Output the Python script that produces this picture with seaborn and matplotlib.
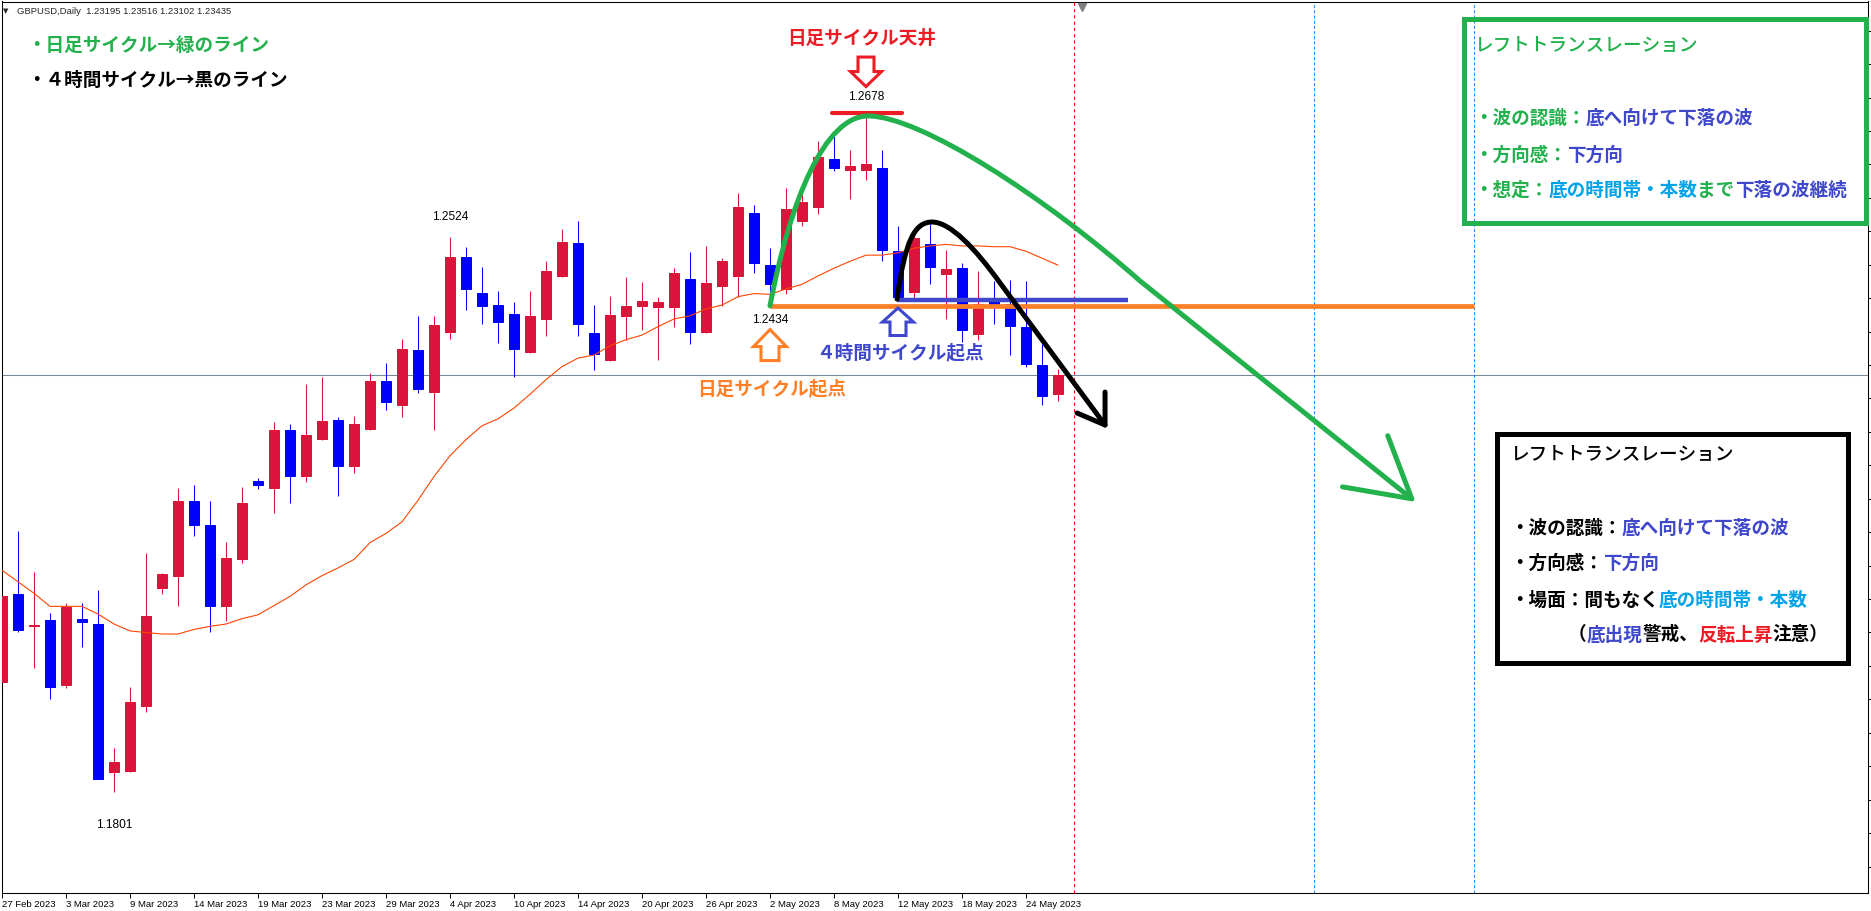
import numpy as np
import matplotlib
matplotlib.use("Agg")
import matplotlib.pyplot as plt
import matplotlib.transforms as mtransforms
from matplotlib.path import Path
from matplotlib.patches import PathPatch, Polygon, Rectangle
import seaborn as sns

# ---------------- data: GBPUSD daily ----------------
bar_index = np.arange(67)

opens = [1.1944, 1.2059, 1.2017, 1.2025, 1.1941, 1.2027, 1.2020, 1.1827, 1.1829, 1.1914,
         1.2067, 1.2083, 1.2180, 1.2149, 1.2044, 1.2105, 1.2206, 1.2197, 1.2272, 1.2213,
         1.2261, 1.2286, 1.2226, 1.2274, 1.2336, 1.2305, 1.2377, 1.2322, 1.2400, 1.2497,
         1.2451, 1.2435, 1.2423, 1.2374, 1.2417, 1.2473, 1.2516, 1.2399, 1.2363, 1.2421,
         1.2434, 1.2432, 1.2432, 1.2469, 1.2400, 1.2460, 1.2473, 1.2555, 1.2487, 1.2456,
         1.2544, 1.2563, 1.2625, 1.2611, 1.2611, 1.2613, 1.2505, 1.2452, 1.2515, 1.2475,
         1.2483, 1.2398, 1.2444, 1.2437, 1.2406, 1.2357, 1.23195]
highs = [1.2064, 1.2141, 1.2088, 1.2034, 1.2047, 1.2047, 1.2064, 1.1859, 1.1938, 1.2112,
         1.2086, 1.2197, 1.2201, 1.2180, 1.2127, 1.2198, 1.2210, 1.2283, 1.2280, 1.2332,
         1.2341, 1.2289, 1.2291, 1.2347, 1.2360, 1.2391, 1.2421, 1.2421, 1.2524, 1.2511,
         1.2484, 1.2454, 1.2439, 1.2454, 1.2492, 1.2534, 1.2544, 1.2435, 1.2447, 1.2472,
         1.2465, 1.2446, 1.2483, 1.2504, 1.2512, 1.2496, 1.2581, 1.2565, 1.2509, 1.2587,
         1.2588, 1.2649, 1.2659, 1.2637, 1.2678, 1.2637, 1.2538, 1.2531, 1.2541, 1.2507,
         1.2490, 1.2480, 1.2466, 1.2468, 1.2466, 1.2385, 1.23516]
lows = [1.1921, 1.2010, 1.1963, 1.1923, 1.1937, 1.1990, 1.1818, 1.1801, 1.1828, 1.1906,
        1.2059, 1.2044, 1.2134, 1.2009, 1.2024, 1.2100, 1.2196, 1.2164, 1.2177, 1.2205,
        1.2259, 1.2187, 1.2216, 1.2273, 1.2299, 1.2290, 1.2321, 1.2272, 1.2391, 1.2429,
        1.2410, 1.2386, 1.2341, 1.2373, 1.2395, 1.2472, 1.2395, 1.2350, 1.2362, 1.2389,
        1.2402, 1.2364, 1.2407, 1.2384, 1.2399, 1.2434, 1.2446, 1.2477, 1.2434, 1.2450,
        1.2538, 1.2553, 1.2609, 1.2573, 1.2598, 1.2493, 1.2443, 1.2444, 1.2462, 1.2417,
        1.2387, 1.2389, 1.2411, 1.2370, 1.2355, 1.2305, 1.23102]
closes = [1.2056, 1.2012, 1.2019, 1.1938, 1.2042, 1.2023, 1.1819, 1.1840, 1.1919, 1.2030,
          1.2085, 1.2180, 1.2149, 1.2044, 1.2106, 1.2178, 1.2201, 1.2272, 1.2213, 1.2266,
          1.2284, 1.2226, 1.2280, 1.2336, 1.2309, 1.2378, 1.2326, 1.2409, 1.2497, 1.2456,
          1.2434, 1.2413, 1.2378, 1.2421, 1.2479, 1.2517, 1.2411, 1.2372, 1.2422, 1.2434,
          1.2440, 1.2439, 1.2477, 1.2400, 1.2464, 1.2492, 1.2563, 1.2490, 1.2462, 1.2560,
          1.2569, 1.2628, 1.2614, 1.2616, 1.2619, 1.2507, 1.2445, 1.2522, 1.2484, 1.2482,
          1.2402, 1.2437, 1.2435, 1.2408, 1.2359, 1.2317, 1.23435]
moving_average = [1.2090, 1.2075, 1.2060, 1.2043, 1.2043, 1.2043, 1.2033, 1.2020, 1.2011, 1.2009,
                  1.2007, 1.2007, 1.2013, 1.2017, 1.2020, 1.2027, 1.2032, 1.2044, 1.2056, 1.2071,
                  1.2083, 1.2093, 1.2104, 1.2126, 1.2138, 1.2153, 1.2181, 1.2212, 1.2239, 1.2260,
                  1.2278, 1.2287, 1.2301, 1.2319, 1.2338, 1.2355, 1.2366, 1.2370, 1.2382, 1.2390,
                  1.2396, 1.2407, 1.2417, 1.2421, 1.2430, 1.2435, 1.2446, 1.2450, 1.2449, 1.2456,
                  1.2462, 1.2473, 1.2483, 1.2492, 1.2500, 1.2500, 1.2503, 1.2509, 1.2512, 1.2514,
                  1.2512, 1.2512, 1.2511, 1.2511, 1.2505, 1.2496, 1.2487]

date_tick_bars = [0, 4, 8, 12, 16, 20, 24, 28, 32, 36, 40, 44, 48, 52, 56, 60, 64]
date_tick_labels = ["27 Feb 2023", "3 Mar 2023", "9 Mar 2023", "14 Mar 2023", "19 Mar 2023",
                    "23 Mar 2023", "29 Mar 2023", "4 Apr 2023", "10 Apr 2023", "14 Apr 2023",
                    "20 Apr 2023", "26 Apr 2023", "2 May 2023", "8 May 2023", "12 May 2023",
                    "18 May 2023", "24 May 2023"]

symbol_title = "GBPUSD,Daily  1.23195 1.23516 1.23102 1.23435"

# swing high / low labels
swing_bars = [54, 28, 48, 7]
swing_prices = [1.2678, 1.2524, 1.2434, 1.1801]

# cycle anchors
daily_start_bar, daily_start_price = 48, 1.2434
daily_top_bar, daily_top_price = 54, 1.2678
h4_start_bar, h4_start_price = 56, 1.2442
h4_line_end_bar = 70.4
support_end_bar = 92
red_vline_bar = 67
blue_vline_bars = [82, 92]
bid_price = closes[-1]

# ---------------- colours ----------------
UP = "#dc143c"
DOWN = "#0000ff"
GREEN = "#22b14c"
BLUE = "#3f48cc"
SKY = "#00a2e8"
RED = "#ed1c24"
ORANGE = "#ff7f27"
BLACK = "#000000"

sns.set_theme(style="white")
plt.rcParams["font.family"] = ["Noto Sans CJK JP", "DejaVu Sans"]
plt.rcParams["axes.unicode_minus"] = False

W, H, DPI = 1871, 911, 100
fig = plt.figure(figsize=(W / DPI, H / DPI), dpi=DPI, facecolor="white")

# chart frame in pixels
FL, FR, FT, FB = 1.5, 1868.0, 1.5, 893.0
ax = fig.add_axes([FL / W, 1 - FB / H, (FR - FL) / W, (FB - FT) / H])
ax.set_facecolor("white")

# horizontal scale: 16 px per bar, first bar at x=2 px; vertical scale in price per px
BAR_PX, FIRST_BAR_PX = 16.0, 2.0
PRICE_PER_PX, PRICE_AT_TOP = 0.00013012, 1.2832
Y_LOW = PRICE_AT_TOP - FB * PRICE_PER_PX
Y_HIGH = PRICE_AT_TOP - FT * PRICE_PER_PX

# ---------------- price line & vertical markers ----------------
ax.axhline(bid_price, color="#778899", lw=0.75, zorder=1)
ax.axvline(red_vline_bar, color="#ff0000", lw=0.75, ls=(0, (3, 3)), zorder=1)
for b in blue_vline_bars:
    ax.axvline(b, color="#1e90ff", lw=0.75, ls=(0, (3, 2)), zorder=1)

# ---------------- candles ----------------
o = np.array(opens); h = np.array(highs); l = np.array(lows); c = np.array(closes)
colors = [UP if cc >= oo else DOWN for oo, cc in zip(o, c)]
ax.vlines(bar_index, l, h, colors=colors, lw=0.75, zorder=2)
ax.bar(bar_index, np.abs(c - o), bottom=np.minimum(o, c), width=0.625,
       color=colors, edgecolor=colors, linewidth=0.72, zorder=3)

# moving average
sns.lineplot(x=bar_index, y=moving_average, ax=ax, color="#ff4500", linewidth=0.8, zorder=4)

# ---------------- cycle drawings ----------------
ax.plot([daily_start_bar, support_end_bar], [daily_start_price] * 2, color=ORANGE, lw=3.4,
        solid_capstyle="butt", zorder=6)
ax.plot([h4_start_bar - 0.06, h4_line_end_bar], [h4_start_price] * 2, color=BLUE, lw=3.2,
        solid_capstyle="butt", zorder=6)
ax.plot([51.86, 56.23], [1.26854] * 2, color=RED, lw=3.0, solid_capstyle="round", zorder=6)

green_path = Path(
    [(daily_start_bar, daily_start_price), (49.25, 1.25718), (51.44, 1.26811), (54.13, 1.26811),
     (57.38, 1.26811), (65.19, 1.25757), (71.13, 1.24664), (88.11, 1.21830)],
    [Path.MOVETO, Path.CURVE4, Path.CURVE4, Path.CURVE4,
     Path.CURVE4, Path.CURVE4, Path.CURVE4, Path.LINETO])
ax.add_patch(PathPatch(green_path, facecolor="none", edgecolor=GREEN, lw=3.6,
                       capstyle="round", joinstyle="round", zorder=7))
ax.plot([83.78, 88.11, 86.61], [1.21985, 1.21830, 1.22651], color=GREEN, lw=3.6,
        solid_capstyle="round", solid_joinstyle="round", zorder=7)

black_path = Path(
    [(55.94, 1.24429), (56.44, 1.25197), (57.06, 1.25431), (58.13, 1.25431),
     (59.25, 1.25431), (60.81, 1.25093), (62.38, 1.24638), (68.94, 1.22790)],
    [Path.MOVETO, Path.CURVE4, Path.CURVE4, Path.CURVE4,
     Path.CURVE4, Path.CURVE4, Path.CURVE4, Path.LINETO])
ax.add_patch(PathPatch(black_path, facecolor="none", edgecolor=BLACK, lw=3.6,
                       capstyle="round", joinstyle="round", zorder=7))
ax.plot([68.94, 68.94, 67.19], [1.23219, 1.22790, 1.22946], color=BLACK, lw=3.6,
        solid_capstyle="round", solid_joinstyle="round", zorder=7)


def hollow_arrow(bar, price, tip_dy, pointing, half_head, head_len, half_shaft, shaft_len, color):
    """Outlined block arrow whose tip sits tip_dy pixels above (bar, price)."""
    s = 1 if pointing == "up" else -1
    verts = [(0, 0), (half_head, -s * head_len), (half_shaft, -s * head_len),
             (half_shaft, -s * (head_len + shaft_len)), (-half_shaft, -s * (head_len + shaft_len)),
             (-half_shaft, -s * head_len), (-half_head, -s * head_len)]
    trans = mtransforms.Affine2D().translate(0, tip_dy) + \
        mtransforms.ScaledTranslation(bar, price, ax.transData)
    ax.add_patch(Polygon(verts, closed=True, facecolor="white", edgecolor=color, lw=2.2,
                         joinstyle="miter", transform=trans, zorder=8))


hollow_arrow(daily_start_bar, daily_start_price, -23.7, "up", 16.5, 17, 9, 14, ORANGE)
hollow_arrow(h4_start_bar, h4_start_price, -8.3, "up", 15.5, 14, 8, 13.5, BLUE)
hollow_arrow(daily_top_bar, daily_top_price, 31.8, "down", 15.5, 15, 8, 14.5, RED)

# ---------------- labels on the chart ----------------
num_font = dict(fontfamily="Liberation Sans", fontsize=8.6, color=BLACK, ha="center", va="center")
swing_offsets = [15.3, 14.0, -10.1, -23.5]
for b, p, dy in zip(swing_bars, swing_prices, swing_offsets):
    ax.annotate(f"{p:.4f}", xy=(b, p), xytext=(0, dy), textcoords="offset points", zorder=9,
                **num_font)

jp = dict(fontsize=13.4, fontweight="bold", ha="center", va="center", zorder=9)
ax.annotate("日足サイクル天井", xy=(daily_top_bar, daily_top_price), xytext=(-3.1, 57.6),
            textcoords="offset points", color=RED, **jp)
ax.annotate("日足サイクル起点", xy=(daily_start_bar, daily_start_price), xytext=(1.2, -59.4),
            textcoords="offset points", color=ORANGE, **jp)
ax.annotate("４時間サイクル起点", xy=(h4_start_bar, h4_start_price), xytext=(1.4, -38.2),
            textcoords="offset points", color=BLUE, **jp)

# ---------------- axes styling ----------------
ax.set_xlabel("")
ax.set_ylabel("")
ax.grid(False)
for sp in ax.spines.values():
    sp.set_visible(True)
    sp.set_color("black")
    sp.set_linewidth(0.75)

ax.set_xticks(date_tick_bars)
ax.set_xticklabels(date_tick_labels, ha="left", fontfamily="Liberation Sans", fontsize=6.8)
ax.tick_params(axis="x", direction="out", length=3.6, width=0.7, pad=1.5, colors="black",
               bottom=True)
price_ticks = np.arange(1.2792, Y_LOW, -0.00435)
ax.set_yticks(price_ticks)
ax.tick_params(axis="y", direction="out", length=2.5, width=0.7, left=False, right=True,
               labelleft=False, labelright=False, colors="black")

# limits last so tick setting cannot widen them
ax.set_xlim((FL - FIRST_BAR_PX) / BAR_PX, (FR - FIRST_BAR_PX) / BAR_PX)
ax.set_ylim(Y_LOW, Y_HIGH)

# chart-shift marker on the top border
top_trans = mtransforms.blended_transform_factory(ax.transData, ax.transAxes)
ax.plot([67.5], [0.994], transform=top_trans, marker="v", ms=6, color="#7f7f7f",
        clip_on=False, zorder=10)

# ---------------- header & text panels (screen-fixed) ----------------
def fx(px):
    return px / W


def fy(py):
    return 1 - py / H


fig.text(fx(6), fy(11), "▼", fontsize=5, fontfamily="DejaVu Sans", ha="center", va="center")
fig.text(fx(17), fy(11), symbol_title, fontsize=6.8, fontfamily="Liberation Sans",
         ha="left", va="center")

fig.text(fx(27), fy(45), "・日足サイクル→緑のライン", color=GREEN, fontsize=13.4,
         fontweight="bold", ha="left", va="center")
fig.text(fx(27), fy(80), "・４時間サイクル→黒のライン", color=BLACK, fontsize=13.4,
         fontweight="bold", ha="left", va="center")

EM_PT = 13.4
EM_PX = EM_PT * DPI / 72.0


def segmented_line(x_px, y_px, segments, weight="bold"):
    x = x_px
    for text, col in segments:
        fig.text(fx(x), fy(y_px), text, color=col, fontsize=EM_PT, fontweight=weight,
                 ha="left", va="center")
        x += len(text) * EM_PX


def frame(x0, y0, x1, y1, color):
    fig.add_artist(Rectangle((fx(x0), fy(y1)), (x1 - x0) / W, (y1 - y0) / H,
                             transform=fig.transFigure, fill=False, edgecolor=color,
                             linewidth=3.6, joinstyle="miter"))


frame(1464, 19.5, 1865.5, 223, GREEN)
segmented_line(1474, 45, [("レフトトランスレーション", GREEN)], weight="medium")
segmented_line(1474, 118, [("・波の認識：", GREEN), ("底へ向けて下落の波", BLUE)])
segmented_line(1474, 155, [("・方向感：", GREEN), ("下方向", BLUE)])
segmented_line(1474, 190, [("・想定：", GREEN), ("底の時間帯・本数", SKY), ("まで", GREEN),
                           ("下落の波継続", BLUE)])

frame(1496.5, 434, 1847.5, 662.5, BLACK)
segmented_line(1510, 455, [("レフトトランスレーション", BLACK)], weight="medium")
segmented_line(1510, 528, [("・波の認識：", BLACK), ("底へ向けて下落の波", BLUE)])
segmented_line(1510, 563, [("・方向感：", BLACK), ("下方向", BLUE)])
segmented_line(1510, 600, [("・場面：間もなく", BLACK), ("底の時間帯・本数", SKY)])
segmented_line(1568, 635, [("（", BLACK), ("底出現", BLUE), ("警戒、", BLACK), ("反転上昇", RED),
                           ("注意）", BLACK)])

fig.savefig("out.png", dpi=DPI, facecolor="white")
